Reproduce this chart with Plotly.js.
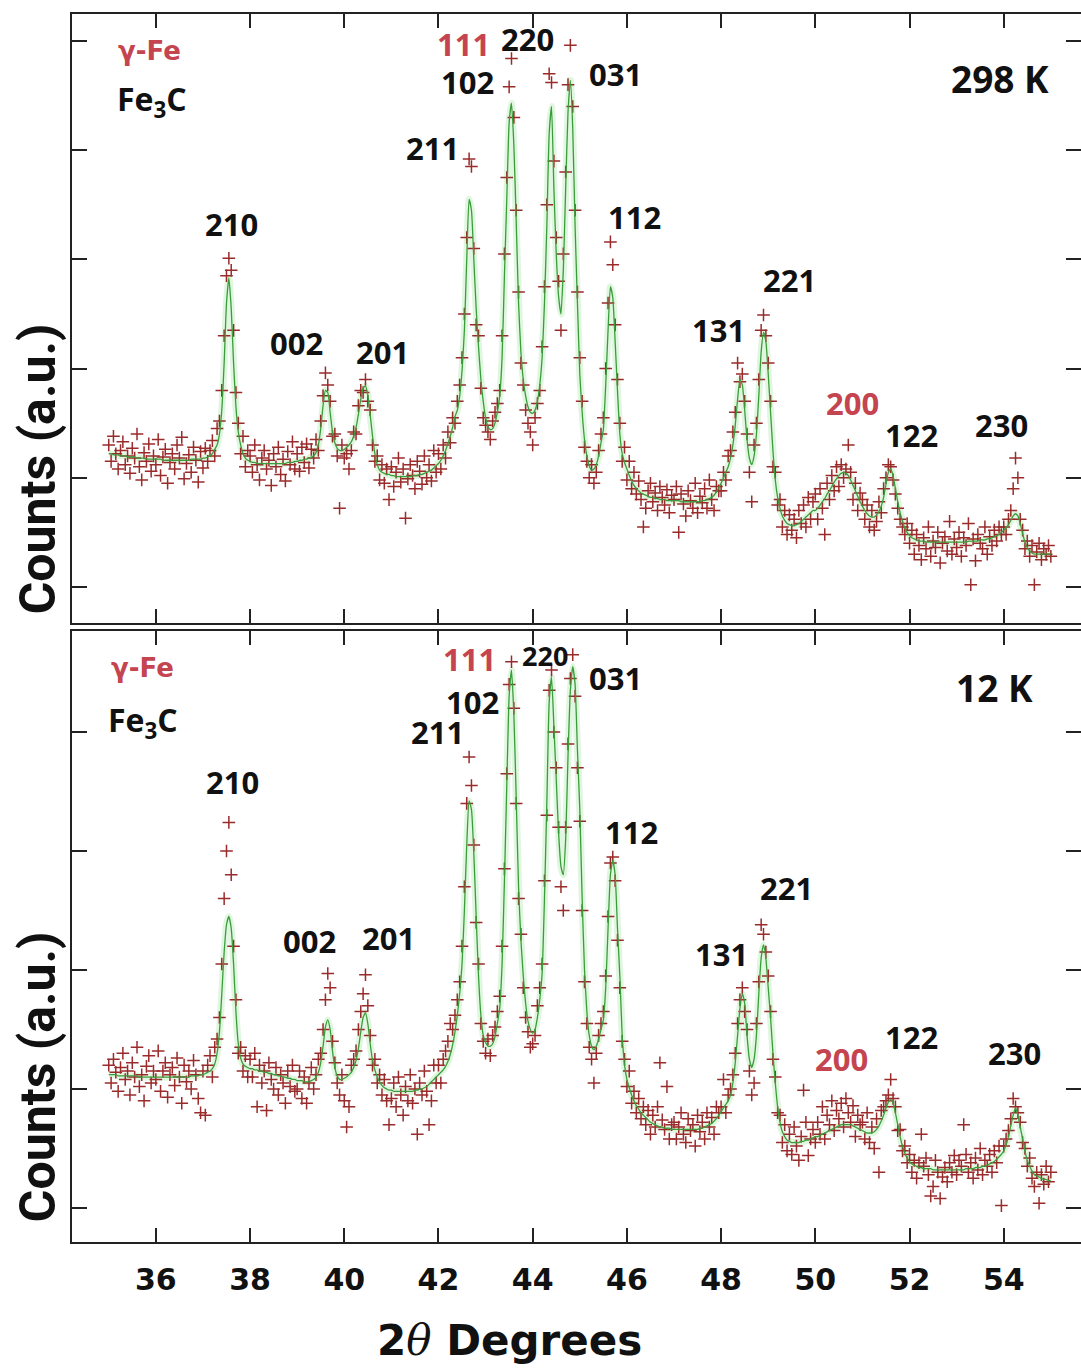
<!DOCTYPE html>
<html>
<head>
<meta charset="utf-8">
<script src="https://cdn.plot.ly/plotly-3.0.1.min.js"></script>
<style>html,body{margin:0;padding:0;background:#fff;}#chart{width:1081px;height:1369px;}</style>
</head>
<body>
<div id="chart"></div>
<script>
// 2theta step scan: start and step of the measurement grid (degrees)
const scanStart = 35.0;
const scanStep = 0.05;

// 298 K : fitted profile (a.u.)
const fit298 = [
1.22,1.22,1.21,1.21,1.21,1.20,1.20,1.20,1.19,1.19,1.19,1.19,1.18,1.18,1.18,1.18,1.17,1.17,1.17,1.17,
1.17,1.17,1.17,1.16,1.16,1.16,1.16,1.16,1.16,1.16,1.16,1.16,1.16,1.16,1.16,1.17,1.17,1.17,1.17,1.17,
1.18,1.18,1.19,1.20,1.22,1.26,1.30,1.40,1.62,2.05,2.60,2.83,2.55,2.05,1.65,1.42,1.30,1.22,1.18,1.16,
1.15,1.14,1.14,1.13,1.13,1.13,1.13,1.13,1.13,1.13,1.13,1.13,1.13,1.13,1.13,1.13,1.14,1.14,1.14,1.15,
1.15,1.16,1.16,1.17,1.17,1.18,1.19,1.20,1.23,1.30,1.45,1.66,1.80,1.78,1.60,1.42,1.32,1.27,1.25,1.25,
1.26,1.28,1.30,1.33,1.38,1.46,1.58,1.72,1.82,1.84,1.76,1.58,1.38,1.22,1.12,1.07,1.05,1.04,1.03,1.03,
1.02,1.02,1.01,1.01,1.01,1.01,1.01,1.01,1.01,1.02,1.02,1.02,1.03,1.03,1.04,1.05,1.06,1.07,1.09,1.11,
1.13,1.16,1.20,1.25,1.31,1.38,1.46,1.56,1.62,1.75,1.98,2.35,3.00,3.55,3.45,3.00,2.55,2.20,1.90,1.70,
1.55,1.47,1.44,1.45,1.50,1.60,1.75,2.10,2.85,3.55,4.25,4.43,4.05,3.35,2.60,2.15,1.90,1.75,1.65,1.60,
1.59,1.62,1.70,1.85,2.10,2.60,3.30,4.15,4.40,3.65,3.05,2.66,2.50,2.90,3.65,4.35,4.64,4.20,3.30,2.60,
1.95,1.60,1.35,1.20,1.11,1.07,1.08,1.12,1.20,1.32,1.44,1.85,2.35,2.75,2.65,2.25,1.80,1.40,1.22,1.14,
1.08,1.02,0.97,0.93,0.90,0.88,0.86,0.85,0.84,0.83,0.82,0.82,0.81,0.81,0.80,0.80,0.80,0.79,0.79,0.79,
0.79,0.79,0.79,0.78,0.78,0.78,0.78,0.78,0.78,0.78,0.78,0.78,0.79,0.79,0.80,0.81,0.82,0.84,0.87,0.91,
0.95,1.00,1.05,1.10,1.18,1.30,1.48,1.72,1.90,1.85,1.62,1.35,1.18,1.12,1.20,1.40,1.75,2.15,2.33,2.25,
1.95,1.60,1.25,0.98,0.82,0.72,0.65,0.61,0.58,0.57,0.56,0.56,0.57,0.58,0.60,0.62,0.64,0.66,0.68,0.70,
0.70,0.72,0.75,0.78,0.81,0.85,0.88,0.92,0.96,0.99,1.02,1.04,1.05,1.04,1.02,0.98,0.93,0.88,0.83,0.78,
0.74,0.70,0.67,0.65,0.64,0.64,0.66,0.69,0.74,0.82,0.94,1.05,1.08,1.02,0.90,0.78,0.68,0.60,0.54,0.50,
0.47,0.45,0.44,0.43,0.42,0.42,0.42,0.41,0.41,0.41,0.41,0.41,0.41,0.41,0.41,0.41,0.41,0.41,0.41,0.41,
0.41,0.41,0.41,0.41,0.41,0.42,0.42,0.42,0.42,0.42,0.43,0.43,0.43,0.44,0.44,0.45,0.46,0.47,0.48,0.50,
0.52,0.54,0.57,0.61,0.65,0.67,0.65,0.58,0.49,0.41,0.36,0.33,0.31,0.30,0.30,0.30,0.30,0.30,0.30,0.30,
0.30];

// 298 K : observed counts (a.u.)
const obs298 = [
1.30,1.15,1.38,1.22,1.08,1.25,1.33,1.12,1.20,1.04,1.27,1.18,1.40,1.10,0.98,1.23,1.15,1.31,1.06,1.20,
1.12,1.35,1.02,1.19,1.26,0.95,1.14,1.22,1.08,1.30,1.18,1.37,0.99,1.13,1.21,1.05,1.28,1.16,0.96,1.24,
1.09,1.27,1.15,1.25,1.34,1.20,1.45,1.52,1.80,2.30,2.85,3.01,2.90,2.35,1.78,1.50,1.22,1.38,1.10,1.25,
1.20,1.05,1.30,1.12,0.98,1.18,1.25,1.08,1.16,0.93,1.22,1.10,1.28,1.03,1.17,0.97,1.24,1.12,1.33,1.08,
1.22,1.06,1.28,1.14,1.31,1.09,1.26,1.18,1.35,1.25,1.52,1.75,1.96,1.85,1.70,1.38,1.40,1.20,0.72,1.30,
1.18,1.22,1.08,1.25,1.42,1.40,1.66,1.80,1.78,1.90,1.70,1.62,1.30,1.15,1.20,0.98,1.12,0.95,1.08,0.80,
1.10,0.92,1.05,1.18,0.96,1.08,0.63,0.99,1.12,1.02,0.90,1.15,1.06,0.94,1.20,1.00,1.12,0.97,1.25,1.05,
1.22,1.08,1.30,1.18,1.42,1.32,1.55,1.50,1.70,1.85,2.10,2.50,3.20,3.92,3.85,3.10,2.40,2.30,1.82,1.55,
1.48,1.42,1.35,1.52,1.60,1.68,1.80,2.30,3.05,3.75,4.58,4.84,4.30,3.45,2.70,2.05,1.85,1.62,1.50,1.42,
1.30,1.55,1.68,1.80,2.20,2.75,3.50,4.70,4.62,3.90,3.20,2.80,2.35,3.05,3.80,4.60,4.96,4.40,3.45,2.70,
2.10,1.70,1.28,1.15,1.00,1.12,0.95,1.05,1.25,1.40,1.55,2.00,2.60,3.16,2.95,2.40,1.90,1.50,1.15,1.28,
0.98,1.15,0.90,1.05,0.85,0.97,0.80,0.55,0.72,0.88,0.95,0.78,0.86,0.70,0.92,0.82,0.75,0.89,0.68,0.84,
0.80,0.92,0.50,0.85,0.76,0.65,0.88,0.79,0.72,0.95,0.68,0.83,0.77,0.90,0.72,0.98,0.80,0.70,0.92,0.88,
0.88,1.05,0.98,1.20,1.25,1.42,1.60,2.05,1.88,1.95,1.70,1.40,1.05,0.78,1.30,1.50,1.90,2.35,2.49,2.30,
2.05,1.70,1.10,1.05,0.75,0.80,0.55,0.70,0.48,0.66,0.52,0.62,0.45,0.70,0.58,0.75,0.55,0.82,0.62,0.78,
0.85,0.62,0.90,0.72,0.48,0.95,0.80,1.02,0.88,1.10,0.92,1.12,1.00,1.08,1.30,1.05,0.80,0.95,0.70,0.86,
0.80,0.62,0.75,0.55,0.70,0.52,0.60,0.78,0.68,0.90,1.00,1.12,1.10,0.98,0.85,0.72,0.62,0.55,0.48,0.58,
0.40,0.52,0.30,0.48,0.38,0.25,0.45,0.35,0.55,0.28,0.42,0.36,0.50,0.22,0.40,0.46,0.33,0.60,0.30,0.44,
0.36,0.50,0.28,0.45,0.38,0.58,0.02,0.44,0.24,0.48,0.40,0.35,0.55,0.30,0.46,0.38,0.52,0.42,0.55,0.48,
0.55,0.48,0.62,0.70,0.90,1.18,1.00,0.62,0.52,0.35,0.42,0.28,0.38,0.02,0.32,0.40,0.25,0.35,0.30,0.38,
0.28];

// 12 K : fitted profile (a.u.)
const fit12 = [
1.12,1.12,1.12,1.12,1.11,1.11,1.11,1.11,1.11,1.11,1.11,1.11,1.11,1.10,1.10,1.10,1.10,1.10,1.10,1.10,
1.10,1.10,1.10,1.10,1.10,1.10,1.10,1.10,1.10,1.10,1.10,1.10,1.10,1.10,1.10,1.11,1.11,1.11,1.11,1.12,
1.12,1.13,1.14,1.15,1.17,1.21,1.30,1.48,1.80,2.15,2.38,2.45,2.35,2.05,1.65,1.38,1.26,1.21,1.19,1.18,
1.17,1.17,1.16,1.16,1.15,1.15,1.14,1.14,1.13,1.13,1.12,1.12,1.11,1.11,1.10,1.10,1.09,1.09,1.08,1.08,
1.07,1.07,1.07,1.06,1.06,1.06,1.07,1.08,1.10,1.14,1.22,1.36,1.52,1.58,1.50,1.32,1.18,1.11,1.08,1.08,
1.09,1.10,1.12,1.14,1.18,1.24,1.34,1.48,1.60,1.64,1.55,1.38,1.24,1.16,1.10,1.06,1.03,1.01,1.00,0.99,
0.99,0.98,0.98,0.98,0.98,0.98,0.98,0.98,0.98,0.98,0.99,0.99,1.00,1.00,1.01,1.02,1.04,1.06,1.08,1.10,
1.12,1.14,1.16,1.19,1.23,1.29,1.37,1.48,1.62,1.80,2.05,2.50,3.05,3.42,3.35,2.98,2.45,1.95,1.62,1.45,
1.39,1.36,1.36,1.38,1.44,1.55,1.68,2.05,2.75,3.55,4.30,4.52,4.15,3.45,2.70,2.25,1.95,1.72,1.57,1.50,
1.47,1.50,1.60,1.75,1.97,2.60,3.40,4.25,4.46,4.05,3.60,3.15,2.87,2.80,3.10,3.80,4.35,4.55,4.40,3.85,
3.35,2.60,2.00,1.65,1.45,1.36,1.33,1.36,1.42,1.50,1.58,1.85,2.35,2.80,2.92,2.80,2.35,1.95,1.45,1.20,
1.08,1.01,0.95,0.90,0.86,0.83,0.80,0.78,0.76,0.74,0.72,0.71,0.70,0.69,0.68,0.68,0.67,0.67,0.67,0.66,
0.66,0.66,0.66,0.66,0.66,0.66,0.66,0.66,0.66,0.66,0.66,0.67,0.67,0.68,0.69,0.70,0.71,0.73,0.75,0.78,
0.81,0.84,0.87,0.90,0.95,1.05,1.22,1.45,1.68,1.80,1.72,1.45,1.25,1.18,1.25,1.45,1.80,2.10,2.21,2.10,
1.85,1.60,1.30,1.05,0.85,0.72,0.64,0.60,0.57,0.56,0.55,0.55,0.55,0.55,0.56,0.56,0.57,0.57,0.58,0.59,
0.60,0.60,0.61,0.62,0.63,0.64,0.65,0.66,0.67,0.68,0.69,0.70,0.70,0.70,0.70,0.70,0.69,0.68,0.67,0.66,
0.65,0.64,0.63,0.63,0.63,0.64,0.66,0.69,0.73,0.78,0.84,0.89,0.91,0.88,0.80,0.70,0.60,0.52,0.46,0.42,
0.39,0.37,0.36,0.35,0.34,0.34,0.33,0.33,0.33,0.33,0.32,0.32,0.32,0.32,0.32,0.32,0.32,0.32,0.32,0.32,
0.32,0.32,0.32,0.32,0.33,0.33,0.33,0.33,0.34,0.34,0.34,0.35,0.35,0.36,0.37,0.38,0.39,0.41,0.43,0.45,
0.48,0.53,0.60,0.69,0.78,0.84,0.78,0.68,0.58,0.48,0.40,0.35,0.31,0.28,0.27,0.26,0.25,0.24,0.24,0.23,
0.23];

// 12 K : observed counts (a.u.)
const obs12 = [
1.20,1.05,1.25,1.14,0.98,1.18,1.30,1.08,1.15,0.95,1.22,1.10,1.35,1.02,1.12,0.90,1.19,1.28,1.05,1.15,
1.08,1.32,0.98,1.15,1.22,0.93,1.12,1.18,1.03,1.26,1.10,0.88,1.20,1.06,1.15,1.00,1.24,1.12,0.92,0.80,
1.15,0.78,1.20,1.28,1.10,1.35,1.42,1.60,2.05,2.60,3.00,3.24,2.80,2.20,1.75,1.30,1.35,1.15,1.28,1.10,
1.25,1.10,1.30,0.85,1.20,1.05,1.15,0.82,1.22,1.08,1.00,1.18,0.95,1.12,1.05,0.88,1.15,1.02,1.20,0.98,
1.00,1.15,0.92,1.10,0.88,1.05,1.18,1.00,1.12,1.25,1.30,1.50,1.75,1.97,1.85,1.40,1.22,1.05,0.95,1.12,
0.90,0.68,0.85,1.20,1.25,1.32,1.50,1.65,1.80,1.96,1.70,1.45,1.20,1.25,1.05,1.12,0.95,1.08,0.90,0.70,
0.92,1.05,0.85,1.10,0.95,0.78,1.02,0.90,1.12,0.88,1.00,0.62,1.05,0.95,1.15,0.98,0.70,0.90,1.20,1.05,
1.20,1.05,1.25,1.32,1.40,1.55,1.50,1.62,1.75,1.90,2.20,2.70,3.40,3.79,3.55,3.05,2.40,2.05,1.55,1.40,
1.30,1.42,1.28,1.45,1.52,1.65,1.78,2.20,2.85,3.65,4.40,4.59,4.20,3.40,2.60,2.30,1.85,1.60,1.48,1.35,
1.38,1.45,1.70,1.85,2.05,2.75,3.30,4.35,4.52,4.00,3.70,3.20,2.70,2.50,3.20,3.90,4.45,4.65,4.30,3.70,
3.25,2.50,1.90,1.55,1.35,1.25,1.05,1.30,1.45,1.55,1.65,1.95,2.45,2.90,2.95,2.75,2.25,1.85,1.40,1.25,
1.02,1.15,0.88,0.98,0.80,0.92,0.75,0.85,0.70,0.82,0.62,0.78,0.68,0.85,1.22,0.74,0.66,1.02,0.58,0.70,
0.72,0.58,0.68,0.80,0.62,0.55,0.75,0.65,0.70,0.52,0.78,0.64,0.72,0.58,0.80,0.68,0.76,0.62,0.85,0.80,
0.85,1.08,0.80,0.95,1.00,1.12,1.30,1.55,1.75,1.85,1.65,1.50,1.15,0.95,1.05,1.55,1.90,2.38,2.30,2.15,
1.95,1.65,1.25,1.10,0.80,0.78,0.55,0.70,0.48,0.62,0.45,0.68,0.52,0.40,0.60,0.99,0.72,0.44,0.58,0.66,
0.55,0.72,0.62,0.85,0.58,0.78,0.70,0.90,0.65,0.82,0.75,0.88,0.68,0.92,0.80,0.72,0.86,0.60,0.78,0.70,
0.72,0.58,0.80,0.55,0.68,0.50,0.75,0.30,0.82,0.85,0.90,0.95,1.08,0.92,0.85,0.65,0.66,0.48,0.52,0.38,
0.45,0.30,0.40,0.25,0.38,0.62,0.35,0.42,0.28,0.10,0.18,0.40,0.30,0.08,0.26,0.34,0.22,0.38,0.30,0.44,
0.28,0.40,0.35,0.70,0.45,0.30,0.38,0.25,0.42,0.32,0.50,0.28,0.40,0.35,0.45,0.30,0.48,0.38,0.52,0.02,
0.52,0.58,0.65,0.75,0.92,0.85,0.80,0.72,0.55,0.50,0.35,0.42,0.25,0.18,0.30,0.04,0.28,0.20,0.35,0.22,
0.30];

// x tick values (degrees)
const xTicks = [36, 38, 40, 42, 44, 46, 48, 50, 52, 54];

// Reflection labels: text, 2theta, height (a.u.)
const labels298 = ['210','002','201','211','111','102','220','031','112','131','221','200','122','230'];
const labelX298 = [37.61,38.99,40.82,41.88,42.53,42.62,43.89,45.75,46.17,47.95,49.45,50.78,52.05,53.96];
const labelY298 = [3.32,2.23,2.15,4.02,4.97,4.62,5.02,4.70,3.39,2.35,2.81,1.68,1.39,1.48];
const labels12 = ['210','002','201','211','111','102','220','031','112','131','221','200','122','230'];
const labelX12 = [37.62,39.27,40.93,41.97,42.65,42.73,44.26,45.76,46.10,48.00,49.39,50.55,52.05,54.22];
const labelY12 = [3.58,2.24,2.27,4.00,4.61,4.25,4.64,4.45,3.16,2.13,2.69,1.25,1.44,1.30];
const gammaFe = ['111','200'];

const twoTheta = obs298.map((_, i) => +(scanStart + scanStep * i).toFixed(2));

const RED = '#c4444f';
const MARK = '#9a2b2b';
const FIT = '#3c9c3c';
const GLOW = 'rgba(150,225,150,0.30)';

function panel(obs, fit, xa, ya) {
  return [
    {x: twoTheta, y: fit, xaxis: xa, yaxis: ya, type: 'scatter', mode: 'lines',
     line: {color: GLOW, width: 7, shape: 'spline', smoothing: 0.5}, hoverinfo: 'skip'},
    {x: twoTheta, y: obs, xaxis: xa, yaxis: ya, type: 'scatter', mode: 'markers',
     marker: {symbol: 'cross-thin', size: 9, color: MARK, line: {color: MARK, width: 1.5}}},
    {x: twoTheta, y: fit, xaxis: xa, yaxis: ya, type: 'scatter', mode: 'lines',
     line: {color: FIT, width: 1.3, shape: 'spline', smoothing: 0.5}}
  ];
}

const data = [...panel(obs298, fit298, 'x2', 'y2'), ...panel(obs12, fit12, 'x', 'y')];

const labFont = (c, s) => ({family: 'Open Sans, sans-serif', size: s, color: c, weight: 'bold'});
const ann = [];
function addLabels(txt, xs, ys, yref, small) {
  txt.forEach((t, i) => {
    const red = gammaFe.includes(t);
    let size = 31;
    if (small && t === '220') size = 27;
    ann.push({x: xs[i], y: ys[i], xref: 'x', yref: yref, text: '<b>' + t + '</b>', showarrow: false,
      xanchor: 'center', yanchor: 'middle', borderpad: 0, font: labFont(red ? RED : '#111', size)});
  });
}
addLabels(labels298, labelX298, labelY298, 'y2', false);
addLabels(labels12, labelX12, labelY12, 'y', true);

// phase legends and temperatures
ann.push({x: 35.86, y: 4.91, xref: 'x', yref: 'y2', text: '<b>γ-Fe</b>', showarrow: false,
  font: {family: 'DejaVu Sans, sans-serif', size: 26, color: RED}});
ann.push({x: 35.91, y: 4.45, xref: 'x', yref: 'y2', text: '<b>Fe<sub>3</sub>C</b>', showarrow: false,
  font: labFont('#111', 32)});
ann.push({x: 53.92, y: 4.66, xref: 'x', yref: 'y2', text: '<b>298 K</b>', showarrow: false,
  font: labFont('#111', 37)});
ann.push({x: 35.71, y: 4.54, xref: 'x', yref: 'y', text: '<b>γ-Fe</b>', showarrow: false,
  font: {family: 'DejaVu Sans, sans-serif', size: 26, color: RED}});
ann.push({x: 35.73, y: 4.08, xref: 'x', yref: 'y', text: '<b>Fe<sub>3</sub>C</b>', showarrow: false,
  font: labFont('#111', 32)});
ann.push({x: 53.80, y: 4.37, xref: 'x', yref: 'y', text: '<b>12 K</b>', showarrow: false,
  font: labFont('#111', 37)});

// axis titles
const titleFont = {family: 'Roboto, sans-serif', size: 50, color: '#111', weight: 'bold'};
ann.push({x: -0.0337, y: 0.630, xref: 'paper', yref: 'paper', text: '<b>Counts (a.u.)</b>', textangle: -90,
  showarrow: false, xanchor: 'center', yanchor: 'middle', font: titleFont});
ann.push({x: -0.0337, y: 0.135, xref: 'paper', yref: 'paper', text: '<b>Counts (a.u.)</b>', textangle: -90,
  showarrow: false, xanchor: 'center', yanchor: 'middle', font: titleFont});
ann.push({x: 0.434, y: -0.080, xref: 'paper', yref: 'paper',
  text: '<b>2</b><span style="font-family:\'DejaVu Serif\',serif;font-weight:normal"><i>θ</i></span><b> Degrees</b>',
  showarrow: false, xanchor: 'center', yanchor: 'middle',
  font: {family: 'DejaVu Sans, sans-serif', size: 42, color: '#111'}});

const axisCommon = {showgrid: false, zeroline: false, showline: true, linecolor: '#222', linewidth: 2,
  ticks: 'inside', tickcolor: '#222', tickwidth: 2, mirror: 'ticks'};

const layout = {
  width: 1081, height: 1369,
  margin: {l: 72, r: 0, t: 14, b: 127},
  paper_bgcolor: '#fff', plot_bgcolor: '#fff',
  showlegend: false,
  xaxis: Object.assign({}, axisCommon, {range: [34.22, 55.64], tickvals: xTicks, ticklen: 14,
    anchor: 'y', domain: [0, 1], ticklabelstandoff: 10,
    tickfont: {family: 'DejaVu Sans, sans-serif', size: 30, color: '#111', weight: 'bold'}}),
  xaxis2: Object.assign({}, axisCommon, {range: [34.22, 55.64], tickvals: xTicks, ticklen: 14,
    anchor: 'y2', matches: 'x', showticklabels: false}),
  yaxis: Object.assign({}, axisCommon, {range: [-0.286, 4.849], tick0: 0, dtick: 1, ticklen: 15,
    showticklabels: false, domain: [0, 0.4976], anchor: 'x'}),
  yaxis2: Object.assign({}, axisCommon, {range: [-0.33, 5.247], tick0: 0, dtick: 1, ticklen: 15,
    showticklabels: false, domain: [0.5041, 1], anchor: 'x2'}),
  annotations: ann
};

Plotly.newPlot('chart', data, layout, {staticPlot: true, displayModeBar: false});
</script>
</body>
</html>
